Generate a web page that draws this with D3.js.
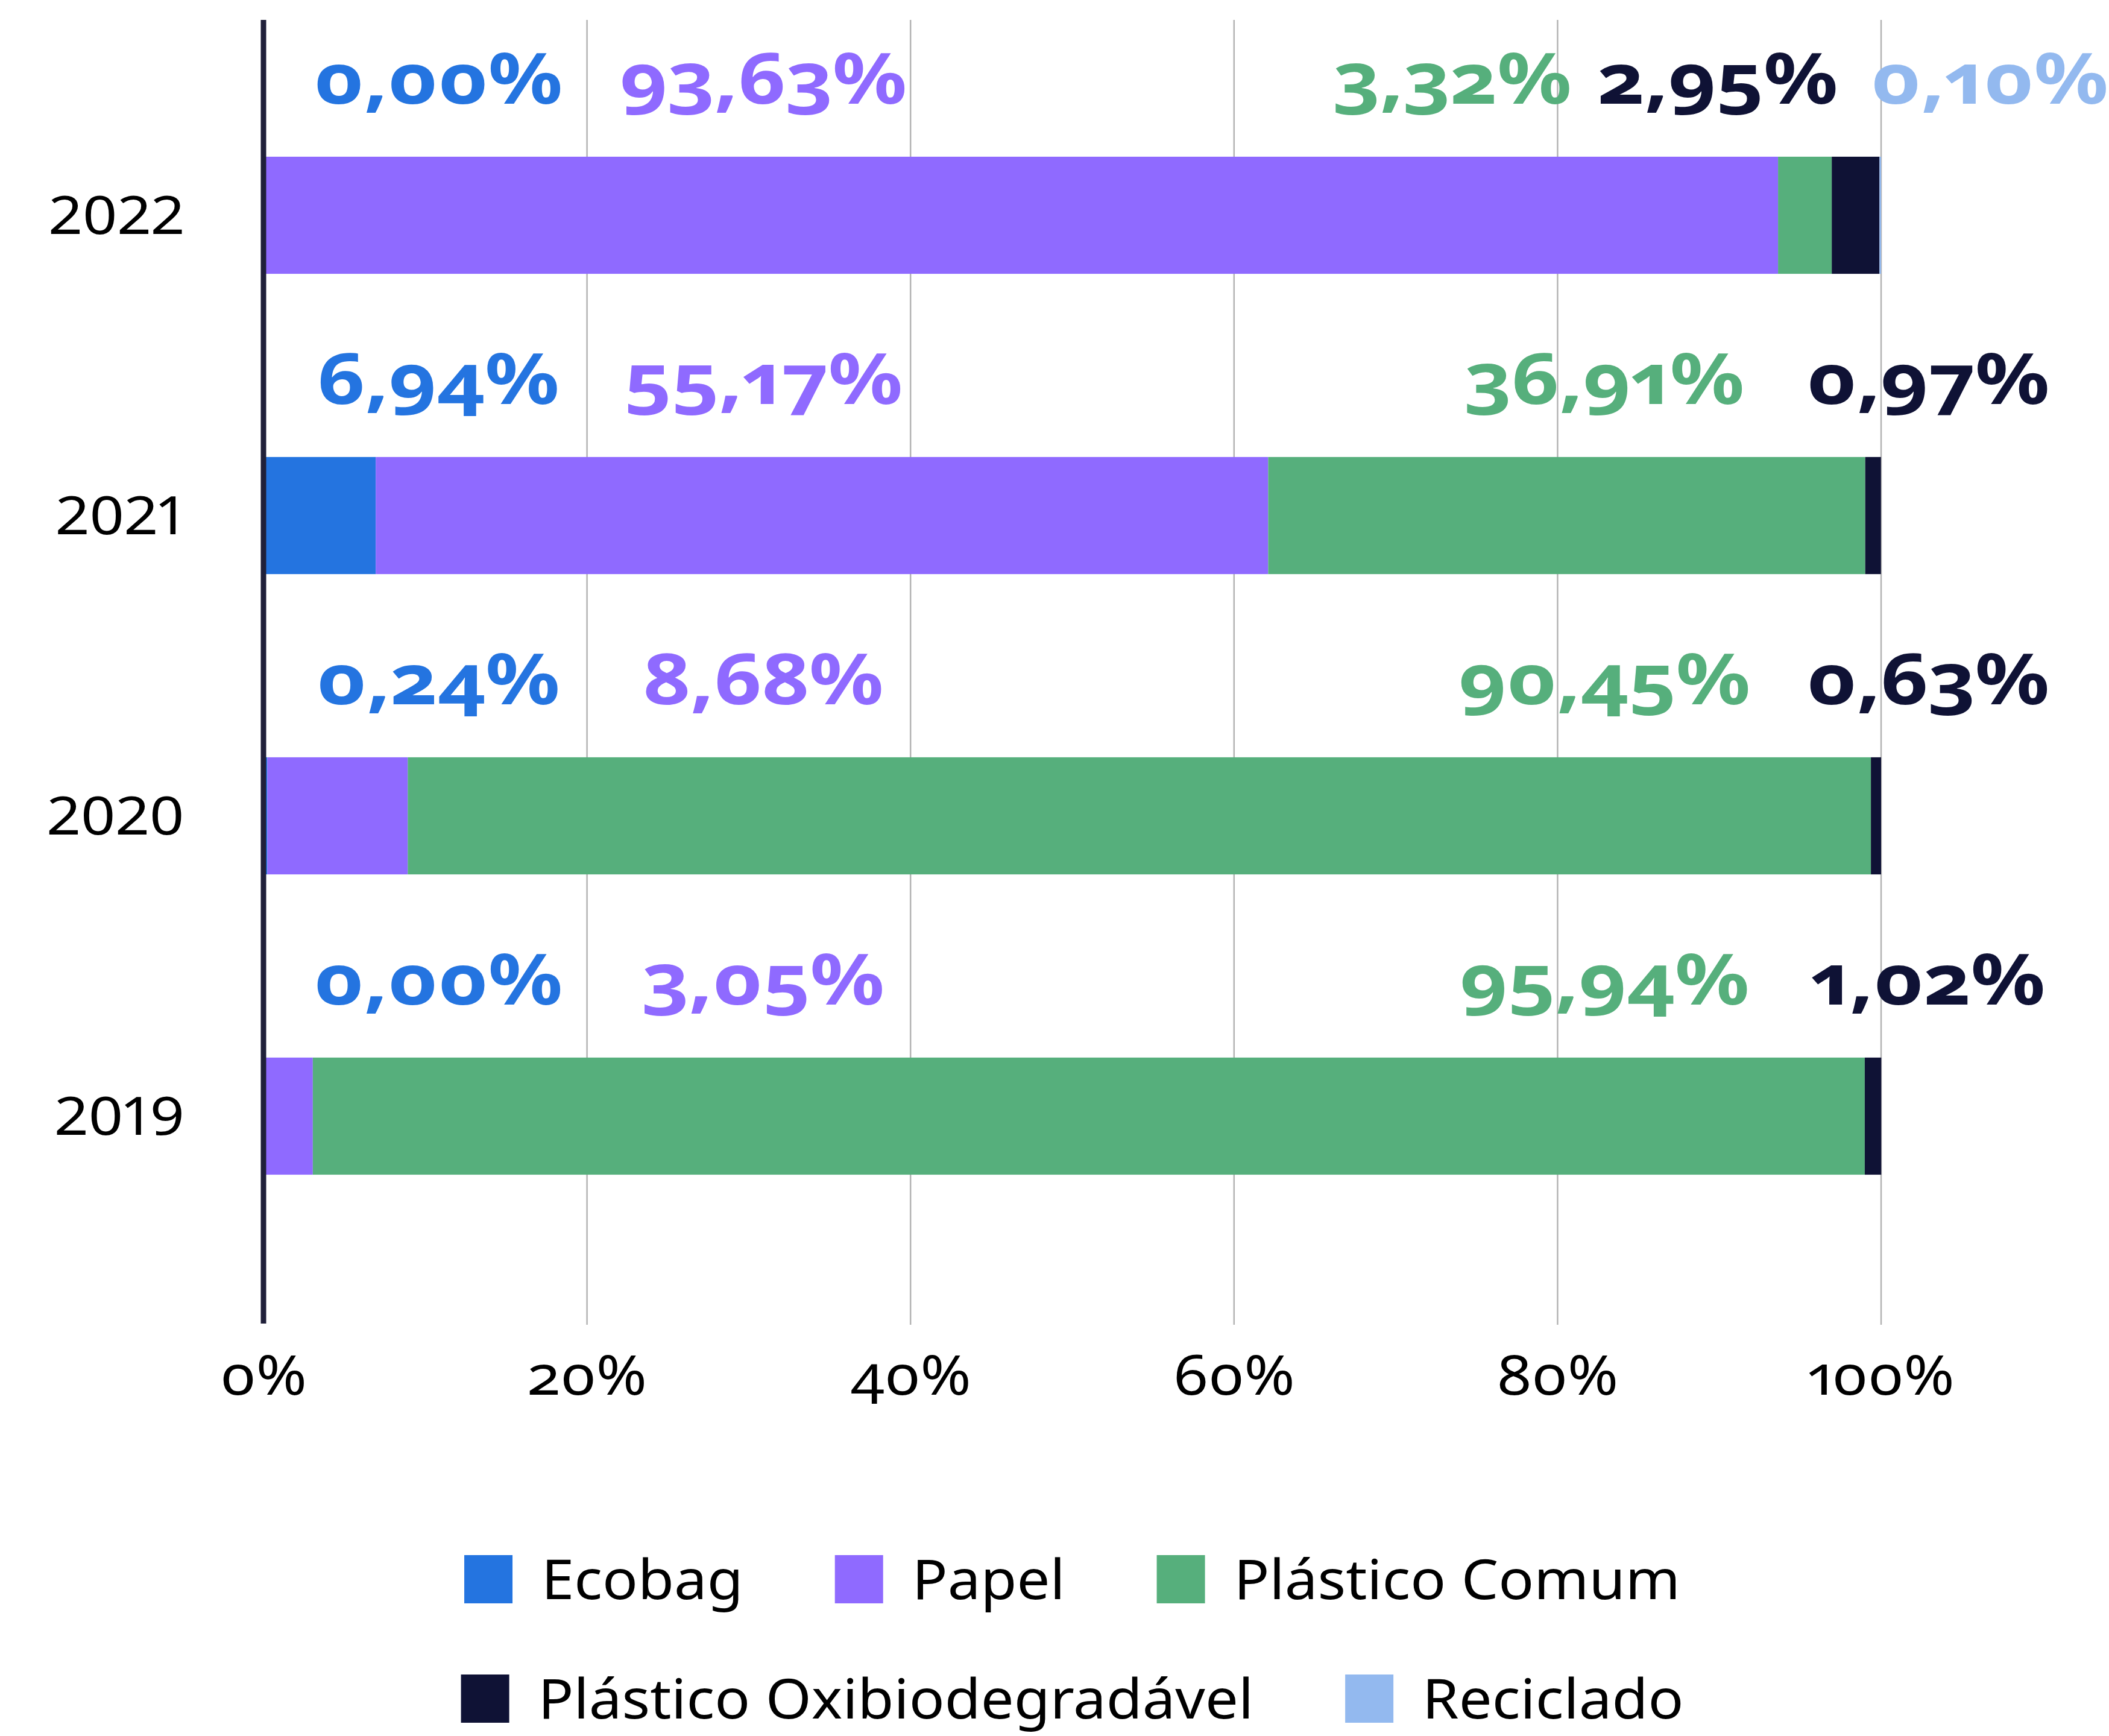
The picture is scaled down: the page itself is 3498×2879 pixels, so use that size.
<!DOCTYPE html>
<html>
<head>
<meta charset="utf-8">
<script src="https://cdn.jsdelivr.net/npm/d3@7"></script>
<style>
  html, body { margin: 0; padding: 0; background: #ffffff; }
  svg { display: block; }
</style>
</head>
<body>
<svg id="chart" width="3498" height="2879"></svg>
<script>
// ---------- DATA ----------
const years = ["2022", "2021", "2020", "2019"];
const seriesNames = ["Ecobag", "Papel", "Plástico Comum", "Plástico Oxibiodegradável", "Reciclado"];
const ecobag        = [0.00, 6.94, 0.24, 0.00];
const papel         = [93.63, 55.17, 8.68, 3.05];
const plasticoComum = [3.32, 36.91, 90.45, 95.94];
const plasticoOxi   = [2.95, 0.97, 0.63, 1.02];
const reciclado     = [0.10, null, null, null];
const xTicks = [0, 20, 40, 60, 80, 100];
const colors = ["#2474E0", "#8F6AFF", "#56AF7C", "#0F1235", "#93B9EF"];

// ---------- LAYOUT ----------
const W = 3498, H = 2879;
const plot = { left: 437, right: 3120, top: 33, bottom: 2197 };
// label column anchors (in axis % units) depending on how many labels a row has
const labelCols = { 4: [10.8, 30.9, 82.9, 102.9], 5: [10.8, 30.9, 73.5, 89.9, 106.7] };

const svg = d3.select("#chart");
const seriesValues = [ecobag, papel, plasticoComum, plasticoOxi, reciclado];

const rows = years.map((y, i) => {
  const r = { year: y };
  seriesNames.forEach((s, k) => r[s] = seriesValues[k][i]);
  return r;
});

const x = d3.scaleLinear().domain([0, 100]).range([plot.left, plot.right]);
const y = d3.scaleBand().domain(years).range([108, 2100]).paddingInner(0.61).paddingOuter(0.305);

// grid lines
svg.append("g").selectAll("line").data(xTicks.filter(t => t > 0)).join("line")
  .attr("x1", d => x(d)).attr("x2", d => x(d))
  .attr("y1", plot.top).attr("y2", plot.bottom)
  .attr("stroke", "#b4b4b4").attr("stroke-width", 2.5);

// stacked bars
const stack = d3.stack().keys(seriesNames).value((d, k) => d[k] == null ? 0 : d[k]);
const stacked = stack(rows);
svg.append("g").selectAll("g").data(stacked).join("g")
  .attr("fill", (d, i) => colors[i])
  .selectAll("rect").data(d => d).join("rect")
  .attr("x", d => x(d[0]))
  .attr("width", d => Math.max(0, x(d[1]) - x(d[0])))
  .attr("y", d => y(d.data.year))
  .attr("height", y.bandwidth());

// vertical axis line
svg.append("line")
  .attr("x1", x(0)).attr("x2", x(0))
  .attr("y1", plot.top).attr("y2", plot.bottom - 2)
  .attr("stroke", "#20203a").attr("stroke-width", 9);

// year labels
svg.append("g").selectAll("text").data(years).join("text")
  .attr("transform", d => `translate(306, ${y(d) + y.bandwidth() / 2 + 31}) scale(1.15,1)`)
  .attr("text-anchor", "end")
  .attr("font-family", "Noto Sans")
  .attr("font-size", 87)
  .style("font-variant-numeric", "proportional-nums")
  .attr("fill", "#000")
  .text(d => d);

// x tick labels
svg.append("g").selectAll("text").data(xTicks).join("text")
  .attr("transform", d => `translate(${x(d)}, 2313) scale(1.1,1)`)
  .attr("text-anchor", "middle")
  .attr("font-family", "Noto Sans")
  .attr("font-size", 92)
  .style("font-variant-numeric", "oldstyle-nums proportional-nums")
  .attr("fill", "#000")
  .text(d => d + "%");

// data labels
const fmt = v => d3.format(".2f")(v).replace(".", ",") + "%";
rows.forEach(r => {
  const present = seriesNames.map((s, k) => ({ s, k, v: r[s] })).filter(d => d.v != null);
  const cols = labelCols[present.length];
  svg.append("g").selectAll("text").data(present).join("text")
    .attr("transform", (d, j) => `translate(${x(cols[j])}, ${y(r.year) - 88}) scale(1.18,1)`)
    .attr("text-anchor", "middle")
    .attr("font-family", "Noto Sans")
    .attr("font-weight", 700)
    .attr("font-size", 116)
    .style("font-variant-numeric", "oldstyle-nums proportional-nums")
    .attr("fill", d => colors[d.k])
    .text(d => fmt(d.v));
});

// legend
const legendRows = [[0, 1, 2], [3, 4]];
const legendY = [2619, 2817];
const sw = 80, gapText = 48, gapItem = 152, legScale = 1.06;
const cx = (plot.left + plot.right) / 2;
legendRows.forEach((idxs, ri) => {
  const g = svg.append("g");
  const items = idxs.map(k => {
    const t = g.append("text")
      .attr("font-family", "Noto Sans")
      .attr("font-size", 92)
      .attr("fill", "#000")
      .text(seriesNames[k]);
    return { k, t, w: t.node().getComputedTextLength() * legScale };
  });
  const total = d3.sum(items, d => sw + gapText + d.w) + gapItem * (items.length - 1);
  let cur = cx - total / 2;
  items.forEach(it => {
    g.append("rect").attr("x", cur).attr("y", legendY[ri] - sw / 2)
      .attr("width", sw).attr("height", sw).attr("fill", colors[it.k]);
    it.t.attr("transform", `translate(${cur + sw + gapText}, ${legendY[ri] + 33}) scale(${legScale},1)`);
    cur += sw + gapText + it.w + gapItem;
  });
});
</script>
</body>
</html>
